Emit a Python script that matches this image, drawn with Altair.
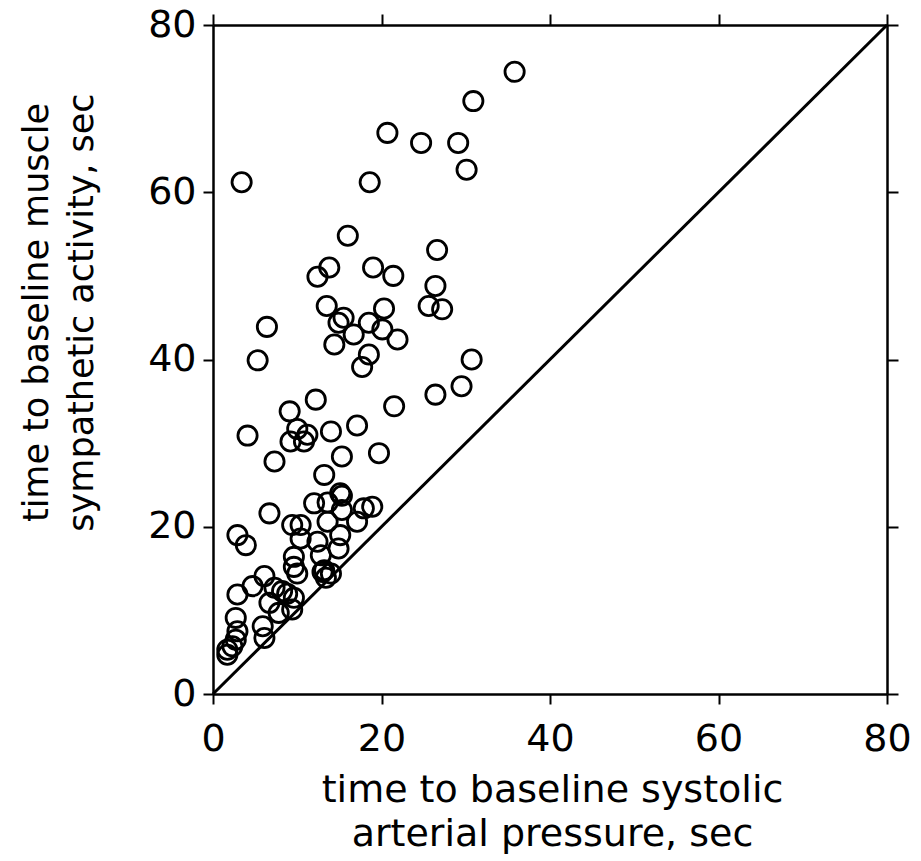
import altair as alt
import pandas as pd

# time to baseline systolic arterial pressure (sec)
sap_time = [35.8, 30.9, 20.7, 24.7, 29.1, 30.1, 3.4, 18.6, 16.0, 26.6,
            13.8, 12.4, 19.0, 21.4, 26.4, 13.5, 20.3, 25.6, 27.2, 6.4,
            5.3, 15.5, 14.9, 16.7, 18.5, 20.1, 21.9, 14.4, 18.5, 17.7,
            30.7, 29.5, 26.4, 21.5, 12.2, 9.1, 4.1, 10.0, 11.2, 9.2,
            10.8, 14.0, 17.1, 7.3, 15.3, 19.7, 13.2, 15.1, 15.3, 12.0,
            13.6, 15.3, 17.9, 18.9, 6.7, 9.4, 10.4, 13.6, 17.1, 12.4,
            15.1, 14.9, 2.9, 3.9, 10.4, 9.6, 12.8, 9.6, 13.2, 14.0,
            13.4, 6.1, 2.9, 4.7, 7.3, 8.2, 9.6, 6.7, 10.0, 13.0,
            7.8, 9.4, 2.7, 5.9, 6.1, 2.9, 2.7, 2.3, 1.7, 1.7, 8.8]
# time to baseline muscle sympathetic activity (sec)
msna_time = [74.4, 70.9, 67.1, 65.9, 65.9, 62.7, 61.2, 61.2, 54.8, 53.1,
             51.0, 49.9, 51.0, 50.0, 48.8, 46.4, 46.1, 46.4, 46.0, 43.9,
             39.9, 45.0, 44.4, 43.0, 44.4, 43.6, 42.4, 41.8, 40.6, 39.1,
             40.0, 36.8, 35.8, 34.4, 35.2, 33.8, 30.9, 31.7, 31.0, 30.2,
             30.2, 31.4, 32.1, 27.8, 28.4, 28.8, 26.2, 24.0, 23.7, 22.8,
             22.9, 22.0, 22.2, 22.4, 21.6, 20.2, 20.2, 20.6, 20.6, 18.2,
             19.0, 17.4, 19.0, 17.8, 18.6, 16.4, 16.6, 15.2, 14.8, 14.4,
             13.9, 14.1, 11.9, 12.9, 12.7, 12.3, 11.5, 10.9, 14.4, 14.6,
             9.7, 10.1, 9.1, 8.1, 6.7, 7.5, 6.5, 5.7, 5.3, 4.7, 12.0]

identity_x = [0, 80]
identity_y = [0, 80]
tick_values = [0, 20, 40, 60, 80]

FONT = "DejaVu Sans"

pts = pd.DataFrame({"sap": sap_time, "msna": msna_time})
diag = pd.DataFrame({"sap": identity_x, "msna": identity_y})

xscale = alt.Scale(domain=[0, 80], nice=False, zero=False)
yscale = alt.Scale(domain=[0, 80], nice=False, zero=False)

x_bottom = alt.X(
    "sap:Q", scale=xscale,
    axis=alt.Axis(
        orient="bottom", values=tick_values, grid=False,
        title=["time to baseline systolic", "arterial pressure, sec"],
        titleFont=FONT, titleFontSize=38, titleFontWeight="normal",
        titleColor="black", titleLineHeight=44,
        titleX=339, titleY=107, titleAlign="center", titleBaseline="alphabetic",
        labelFont=FONT, labelFontSize=38, labelColor="black",
        labelBaseline="alphabetic", labelPadding=46, labelFlush=False,
        tickSize=10, tickWidth=2, tickColor="black",
        domainColor="black", domainWidth=2.5,
    ),
)
y_left = alt.Y(
    "msna:Q", scale=yscale,
    axis=alt.Axis(
        orient="left", values=tick_values, grid=False,
        title=["time to baseline muscle", "sympathetic activity, sec"],
        titleFont=FONT, titleFontSize=35, titleFontWeight="normal",
        titleColor="black", titleLineHeight=45, titleAngle=270,
        titleX=-166, titleY=287, titleAlign="center", titleBaseline="alphabetic",
        labelFont=FONT, labelFontSize=38, labelColor="black",
        labelPadding=7, labelFlush=False,
        tickSize=10, tickWidth=2, tickColor="black",
        domainColor="black", domainWidth=2.5,
    ),
)

points = alt.Chart(pts).mark_point(
    shape="circle", filled=False, size=370, stroke="black",
    strokeWidth=2.8, opacity=1,
).encode(x=x_bottom, y=y_left)

line = alt.Chart(diag).mark_line(color="black", strokeWidth=3).encode(
    x=alt.X("sap:Q", scale=xscale, axis=None),
    y=alt.Y("msna:Q", scale=yscale, axis=None),
)

frame_axes = alt.Chart(diag).mark_point(opacity=0).encode(
    x=alt.X("sap:Q", scale=xscale,
            axis=alt.Axis(orient="top", values=tick_values, labels=False,
                          title=None, grid=False, tickSize=11, tickWidth=2,
                          tickColor="black", domainColor="black", domainWidth=2.5)),
    y=alt.Y("msna:Q", scale=yscale,
            axis=alt.Axis(orient="right", values=tick_values, labels=False,
                          title=None, grid=False, tickSize=11, tickWidth=2,
                          tickColor="black", domainColor="black", domainWidth=2.5)),
)

chart = alt.layer(line, points, frame_axes).properties(
    width=674, height=669,
    autosize=alt.AutoSizeParams(type="none"),
    padding={"left": 205, "top": 17, "right": 25, "bottom": 160},
).configure_view(stroke="black", strokeWidth=2.5).configure(background="white")

chart.save("out.html", embed_options={"renderer": "svg", "actions": False})
